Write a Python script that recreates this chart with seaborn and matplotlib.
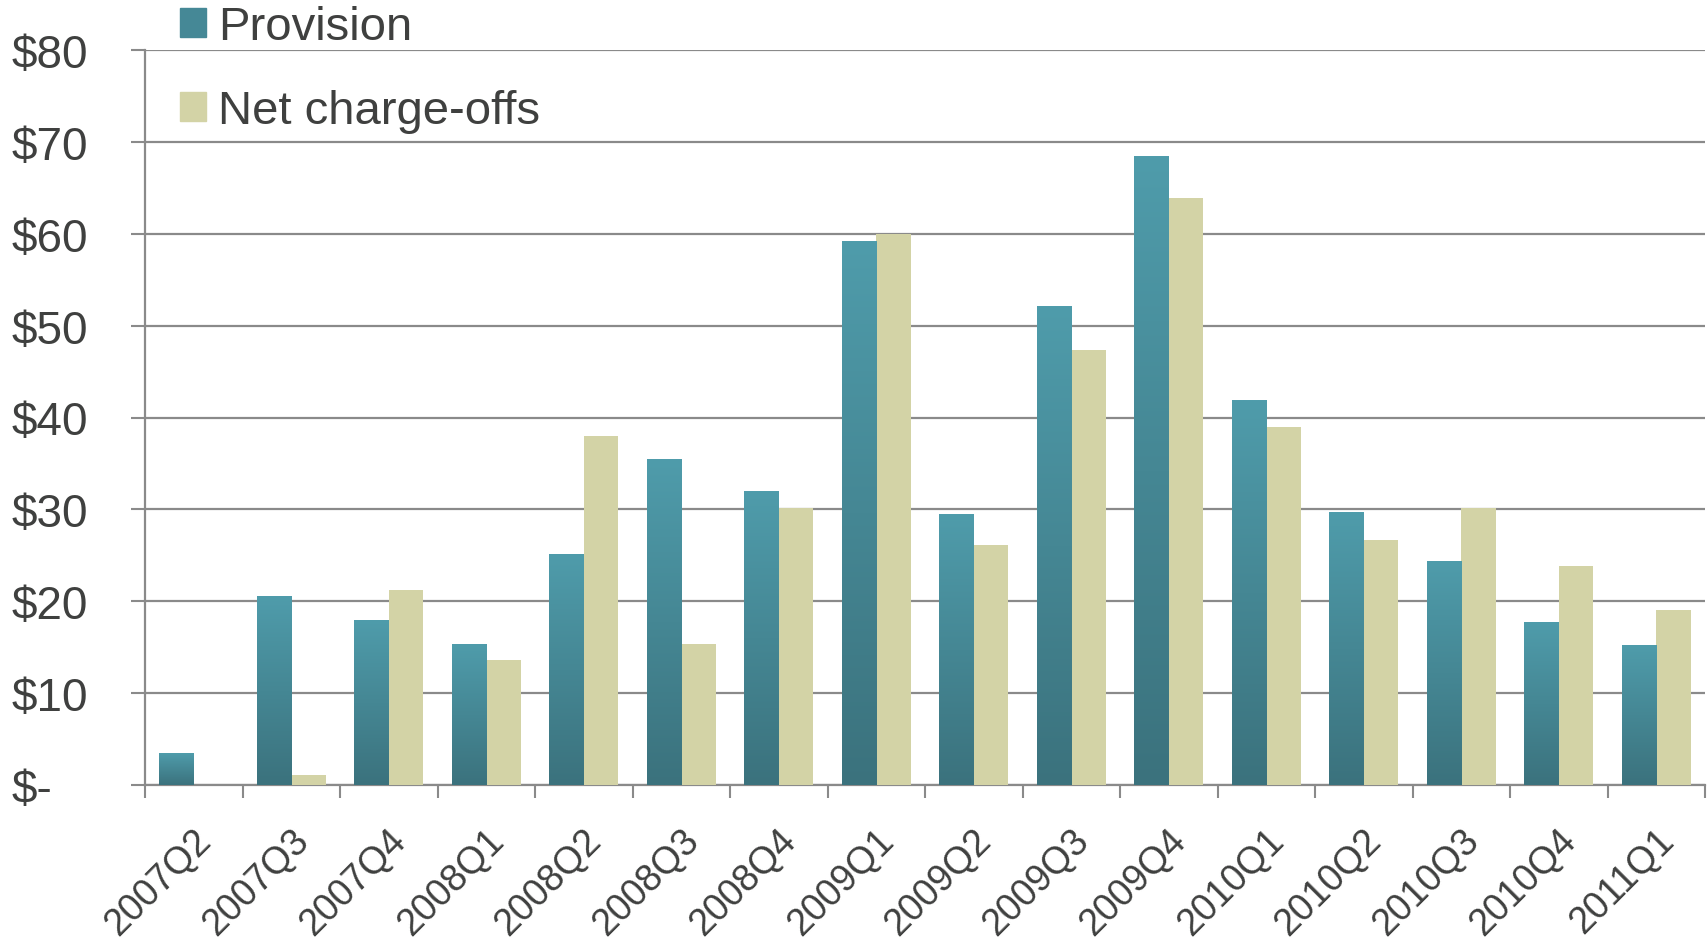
import numpy as np
import pandas as pd
import matplotlib
matplotlib.use("Agg")
import matplotlib.pyplot as plt
import matplotlib.transforms as mtransforms
from matplotlib.colors import LinearSegmentedColormap
import seaborn as sns

# quarters and values ($ billions)
quarters = ['2007Q2', '2007Q3', '2007Q4', '2008Q1', '2008Q2', '2008Q3', '2008Q4', '2009Q1',
            '2009Q2', '2009Q3', '2009Q4', '2010Q1', '2010Q2', '2010Q3', '2010Q4', '2011Q1']
provision = [3.4, 20.5, 17.9, 15.3, 25.1, 35.4, 32.0, 59.2,
             29.4, 52.1, 68.4, 41.9, 29.7, 24.3, 17.7, 15.2]
net_chargeoffs = [0.0, 1.1, 21.2, 13.6, 38.0, 15.3, 30.2, 60.0,
                  26.1, 47.3, 63.9, 39.0, 26.7, 30.2, 23.8, 19.0]
series_names = ['Provision', 'Net charge-offs']
ytick_vals = [0, 10, 20, 30, 40, 50, 60, 70, 80]
ytick_labels = ['$-', '$10', '$20', '$30', '$40', '$50', '$60', '$70', '$80']

df = pd.DataFrame({'quarter': quarters * 2,
                   'value': provision + net_chargeoffs,
                   'series': [series_names[0]] * len(quarters) + [series_names[1]] * len(quarters)})

teal_top = '#4f9cab'
teal_bot = '#3b727d'
khaki = '#d3d3a6'
grid_col = '#8a8a8a'
text_col = '#3f403f'

sns.set_style('white')
plt.rcParams['font.family'] = ['Liberation Sans', 'DejaVu Sans']

fig = plt.figure(figsize=(17.07, 9.45), dpi=100)
W, H = 1707, 945
ax = fig.add_axes([145 / W, 1 - 786 / H, 1560 / W, (786 - 51) / H])

sns.barplot(data=df, x='quarter', y='value', hue='series', ax=ax,
            palette=['#458896', khaki], width=0.71, saturation=1, legend=False,
            linewidth=0, zorder=3)

# gradient fill on provision bars
cmap = LinearSegmentedColormap.from_list('teal', [teal_bot, teal_top])
grad = np.linspace(0, 1, 256).reshape(-1, 1)
for bar in ax.containers[0]:
    x0, w, h = bar.get_x(), bar.get_width(), bar.get_height()
    if h <= 0:
        continue
    ax.imshow(grad, cmap=cmap, origin='lower', aspect='auto',
              extent=[x0, x0 + w, 0, h], zorder=4)
    bar.set_visible(False)

ax.set_xlim(-0.5, len(quarters) - 0.5)
ax.set_ylim(0, 80)
ax.set_xlabel('')
ax.set_ylabel('')

# y axis
ax.set_yticks(ytick_vals)
ax.set_yticklabels(ytick_labels)
ax.tick_params(axis='y', direction='out', length=10, width=1.5, color=grid_col,
               labelsize=33, labelcolor=text_col, pad=86, left=True)
for lab in ax.get_yticklabels():
    lab.set_horizontalalignment('left')
ax.grid(axis='y', color=grid_col, linewidth=1.6, zorder=0)
ax.set_axisbelow(True)

# x axis: labels at centers, tick marks at category boundaries
ax.set_xticks(range(len(quarters)))
ax.set_xticklabels(quarters)
ax.set_xticks(np.arange(-0.5, len(quarters), 1), minor=True)
ax.tick_params(axis='x', which='major', length=0, labelsize=27, labelcolor=text_col, pad=36)
ax.tick_params(axis='x', which='minor', direction='out', length=9, width=1.5, color=grid_col, bottom=True)
offset = mtransforms.ScaledTranslation(12 / 100, 0, fig.dpi_scale_trans)
for lab in ax.get_xticklabels():
    lab.set_rotation(45)
    lab.set_horizontalalignment('right')
    lab.set_verticalalignment('center')
    lab.set_rotation_mode('anchor')
    lab.set_transform(lab.get_transform() + offset)

for side in ['top', 'right']:
    ax.spines[side].set_visible(False)
for side in ['left', 'bottom']:
    ax.spines[side].set_color(grid_col)
    ax.spines[side].set_linewidth(1.6)

# legend
handles = [plt.Rectangle((0, 0), 1, 1, color='#458896'),
           plt.Rectangle((0, 0), 1, 1, color=khaki)]
fig.legend(handles, series_names, loc='upper left', bbox_to_anchor=(180 / W, 1 - 6 / H),
           frameon=False, fontsize=34, handlelength=0.55, handleheight=0.55,
           handletextpad=0.25, labelspacing=0.85, borderpad=0, borderaxespad=0,
           labelcolor=text_col)

fig.savefig('out.png', dpi=100)
